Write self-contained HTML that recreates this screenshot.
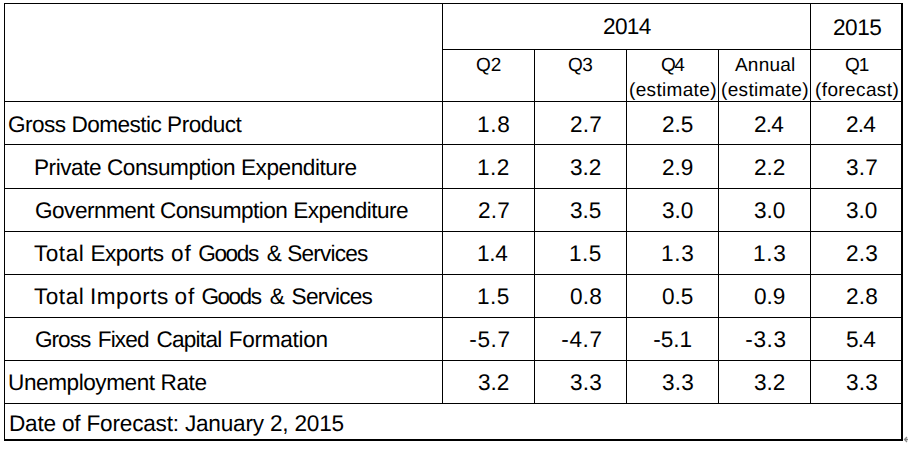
<!DOCTYPE html>
<html><head><meta charset="utf-8"><style>
html,body{margin:0;padding:0;background:#fff;}
body{width:908px;height:449px;position:relative;overflow:hidden;font-family:"Liberation Sans",sans-serif;color:#000;}
.l{position:absolute;background:#000;}
.t{position:absolute;white-space:pre;line-height:24px;text-rendering:geometricPrecision;}
.arr{position:absolute;left:903px;top:435px;width:5px;height:9px;}
</style></head><body>
<div class="l" style="left:4px;top:3px;width:899px;height:1px"></div>
<div class="l" style="left:4px;top:3px;width:1px;height:438px"></div>
<div class="l" style="left:901px;top:3px;width:2px;height:438px"></div>
<div class="l" style="left:4px;top:439px;width:899px;height:2px"></div>
<div class="l" style="left:442px;top:49px;width:459px;height:1px"></div>
<div class="l" style="left:4px;top:101px;width:897px;height:1px"></div>
<div class="l" style="left:4px;top:144px;width:897px;height:1px"></div>
<div class="l" style="left:4px;top:188px;width:897px;height:1px"></div>
<div class="l" style="left:4px;top:231px;width:897px;height:1px"></div>
<div class="l" style="left:4px;top:274px;width:897px;height:1px"></div>
<div class="l" style="left:4px;top:317px;width:897px;height:1px"></div>
<div class="l" style="left:4px;top:360px;width:897px;height:1px"></div>
<div class="l" style="left:4px;top:403px;width:897px;height:1px"></div>
<div class="l" style="left:442px;top:3px;width:1px;height:400px"></div>
<div class="l" style="left:810px;top:3px;width:1px;height:400px"></div>
<div class="l" style="left:534px;top:49px;width:1px;height:354px"></div>
<div class="l" style="left:626px;top:49px;width:1px;height:354px"></div>
<div class="l" style="left:718px;top:49px;width:1px;height:354px"></div>
<div class="t" style="left:603.00px;top:15.01px;font-size:22.6px;letter-spacing:-0.667px">2014</div>
<div class="t" style="left:833.00px;top:16.01px;font-size:22.6px;letter-spacing:-0.500px">2015</div>
<div class="t" style="left:476.00px;top:54.01px;font-size:19.0px;letter-spacing:0.000px">Q2</div>
<div class="t" style="left:568.00px;top:54.01px;font-size:19.0px;letter-spacing:-0.500px">Q3</div>
<div class="t" style="left:661.00px;top:54.01px;font-size:19.0px;letter-spacing:-1.500px">Q4</div>
<div class="t" style="left:735.00px;top:54.01px;font-size:19.0px;letter-spacing:0.200px">Annual</div>
<div class="t" style="left:845.00px;top:54.01px;font-size:19.0px;letter-spacing:-1.000px">Q1</div>
<div class="t" style="left:629.00px;top:79.01px;font-size:19.0px;letter-spacing:0.333px">(estimate)</div>
<div class="t" style="left:721.00px;top:79.01px;font-size:19.0px;letter-spacing:0.333px">(estimate)</div>
<div class="t" style="left:815.00px;top:79.01px;font-size:19.0px;letter-spacing:0.389px">(forecast)</div>
<div class="t" style="left:8.00px;top:113.01px;font-size:22.6px;letter-spacing:-0.524px">Gross Domestic Product</div>
<div class="t" style="left:477.00px;top:113.01px;font-size:22.6px;letter-spacing:0.750px">1.8</div>
<div class="t" style="left:570.00px;top:113.01px;font-size:22.6px;letter-spacing:0.250px">2.7</div>
<div class="t" style="left:662.00px;top:113.01px;font-size:22.6px;letter-spacing:-0.000px">2.5</div>
<div class="t" style="left:754.00px;top:113.01px;font-size:22.6px;letter-spacing:-0.750px">2.4</div>
<div class="t" style="left:846.00px;top:113.01px;font-size:22.6px;letter-spacing:-0.750px">2.4</div>
<div class="t" style="left:34.00px;top:156.01px;font-size:22.6px;letter-spacing:-0.450px">Private Consumption Expenditure</div>
<div class="t" style="left:477.00px;top:156.01px;font-size:22.6px;letter-spacing:0.500px">1.2</div>
<div class="t" style="left:570.00px;top:156.01px;font-size:22.6px;letter-spacing:-0.000px">3.2</div>
<div class="t" style="left:662.00px;top:156.01px;font-size:22.6px;letter-spacing:-0.000px">2.9</div>
<div class="t" style="left:754.00px;top:156.01px;font-size:22.6px;letter-spacing:-0.000px">2.2</div>
<div class="t" style="left:846.00px;top:156.01px;font-size:22.6px;letter-spacing:0.250px">3.7</div>
<div class="t" style="left:35.00px;top:199.01px;font-size:22.6px;letter-spacing:-0.515px">Government Consumption Expenditure</div>
<div class="t" style="left:478.00px;top:199.01px;font-size:22.6px;letter-spacing:0.250px">2.7</div>
<div class="t" style="left:570.00px;top:199.01px;font-size:22.6px;letter-spacing:-0.000px">3.5</div>
<div class="t" style="left:662.00px;top:199.01px;font-size:22.6px;letter-spacing:-0.000px">3.0</div>
<div class="t" style="left:754.00px;top:199.01px;font-size:22.6px;letter-spacing:-0.000px">3.0</div>
<div class="t" style="left:846.00px;top:199.01px;font-size:22.6px;letter-spacing:-0.000px">3.0</div>
<div class="t" style="left:34.00px;top:242.01px;font-size:22.6px;letter-spacing:0.500px">Total</div>
<div class="t" style="left:90.40px;top:242.01px;font-size:22.6px;letter-spacing:-0.500px">Exports</div>
<div class="t" style="left:171.00px;top:242.01px;font-size:22.6px;letter-spacing:1.000px">of</div>
<div class="t" style="left:198.20px;top:242.01px;font-size:22.6px;letter-spacing:-1.375px">Goods</div>
<div class="t" style="left:266.80px;top:242.01px;font-size:22.6px;letter-spacing:0.000px">&amp;</div>
<div class="t" style="left:287.20px;top:242.01px;font-size:22.6px;letter-spacing:-0.786px">Services</div>
<div class="t" style="left:477.00px;top:242.01px;font-size:22.6px;letter-spacing:-0.250px">1.4</div>
<div class="t" style="left:569.00px;top:242.01px;font-size:22.6px;letter-spacing:0.500px">1.5</div>
<div class="t" style="left:661.00px;top:242.01px;font-size:22.6px;letter-spacing:0.750px">1.3</div>
<div class="t" style="left:753.00px;top:242.01px;font-size:22.6px;letter-spacing:0.750px">1.3</div>
<div class="t" style="left:846.00px;top:242.01px;font-size:22.6px;letter-spacing:0.250px">2.3</div>
<div class="t" style="left:34.00px;top:285.01px;font-size:22.6px;letter-spacing:0.500px">Total</div>
<div class="t" style="left:90.00px;top:285.01px;font-size:22.6px;letter-spacing:0.500px">Imports</div>
<div class="t" style="left:174.40px;top:285.01px;font-size:22.6px;letter-spacing:1.000px">of</div>
<div class="t" style="left:201.40px;top:285.01px;font-size:22.6px;letter-spacing:-1.500px">Goods</div>
<div class="t" style="left:269.80px;top:285.01px;font-size:22.6px;letter-spacing:0.000px">&amp;</div>
<div class="t" style="left:291.60px;top:285.01px;font-size:22.6px;letter-spacing:-0.786px">Services</div>
<div class="t" style="left:477.00px;top:285.01px;font-size:22.6px;letter-spacing:0.500px">1.5</div>
<div class="t" style="left:570.00px;top:285.01px;font-size:22.6px;letter-spacing:0.250px">0.8</div>
<div class="t" style="left:662.00px;top:285.01px;font-size:22.6px;letter-spacing:-0.000px">0.5</div>
<div class="t" style="left:754.00px;top:285.01px;font-size:22.6px;letter-spacing:-0.000px">0.9</div>
<div class="t" style="left:846.00px;top:285.01px;font-size:22.6px;letter-spacing:0.250px">2.8</div>
<div class="t" style="left:35.00px;top:328.01px;font-size:22.6px;letter-spacing:-1.000px">Gross</div>
<div class="t" style="left:97.80px;top:328.01px;font-size:22.6px;letter-spacing:-0.875px">Fixed</div>
<div class="t" style="left:156.40px;top:328.01px;font-size:22.6px;letter-spacing:-0.750px">Capital</div>
<div class="t" style="left:228.80px;top:328.01px;font-size:22.6px;letter-spacing:-0.313px">Formation</div>
<div class="t" style="left:469.20px;top:328.01px;font-size:22.6px;letter-spacing:0.667px">-5.7</div>
<div class="t" style="left:561.20px;top:328.01px;font-size:22.6px;letter-spacing:0.667px">-4.7</div>
<div class="t" style="left:653.20px;top:328.01px;font-size:22.6px;letter-spacing:-0.000px">-5.1</div>
<div class="t" style="left:745.20px;top:328.01px;font-size:22.6px;letter-spacing:0.667px">-3.3</div>
<div class="t" style="left:846.00px;top:328.01px;font-size:22.6px;letter-spacing:-0.750px">5.4</div>
<div class="t" style="left:8.00px;top:371.01px;font-size:22.6px;letter-spacing:-0.437px">Unemployment Rate</div>
<div class="t" style="left:478.00px;top:371.01px;font-size:22.6px;letter-spacing:0.000px">3.2</div>
<div class="t" style="left:570.00px;top:371.01px;font-size:22.6px;letter-spacing:0.250px">3.3</div>
<div class="t" style="left:662.00px;top:371.01px;font-size:22.6px;letter-spacing:0.250px">3.3</div>
<div class="t" style="left:754.00px;top:371.01px;font-size:22.6px;letter-spacing:-0.000px">3.2</div>
<div class="t" style="left:846.00px;top:371.01px;font-size:22.6px;letter-spacing:0.250px">3.3</div>
<div class="t" style="left:9.00px;top:412.01px;font-size:22.6px;letter-spacing:-0.203px">Date of Forecast: January 2, 2015</div>
<svg class="arr" width="5" height="9" viewBox="0 0 5 9"><path d="M1.5 4.5 L5 4.5 M4 2 L1.5 4.5 L4 7" stroke="#888" stroke-width="1.3" fill="none"/></svg>
</body></html>
